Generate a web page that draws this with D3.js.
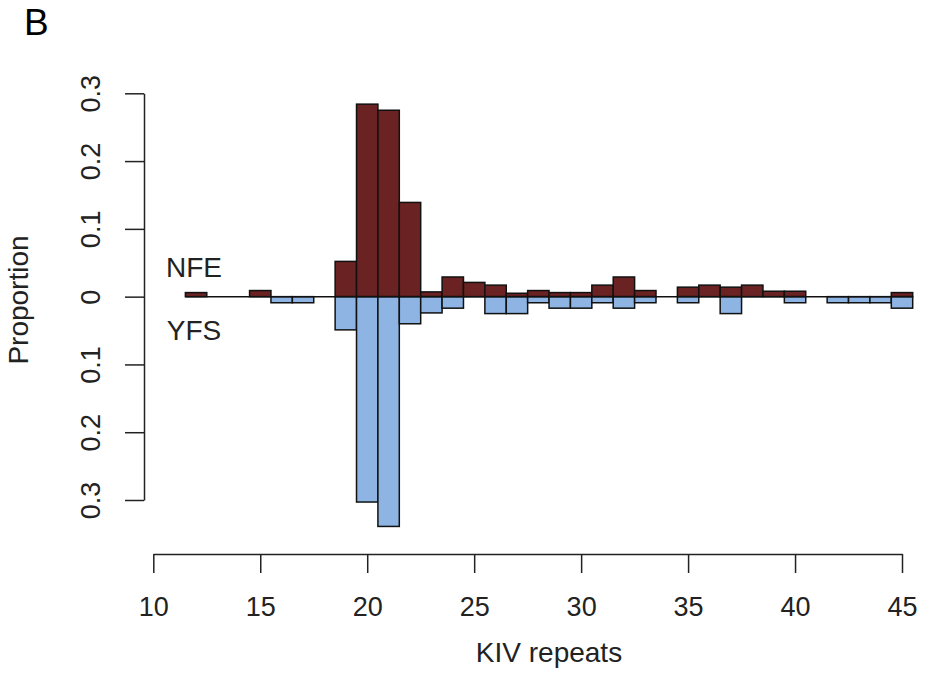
<!DOCTYPE html>
<html>
<head>
<meta charset="utf-8">
<script src="https://cdn.jsdelivr.net/npm/d3@7"></script>
<style>
  html, body { margin: 0; padding: 0; background: #fff; }
  svg { display: block; font-family: "Liberation Sans", Arial, sans-serif; }
</style>
</head>
<body>
<svg id="chart" width="928" height="698"></svg>
<script>
// KIV repeat counts (bar centres)
const repeats = [11,12,13,14,15,16,17,18,19,20,21,22,23,24,25,26,27,28,29,30,31,32,33,34,35,36,37,38,39,40,41,42,43,44,45];
// NFE proportions (drawn upwards)
const nfe = [0,0.006,0,0,0.009,0,0,0,0.052,0.284,0.275,0.139,0.007,0.029,0.021,0.017,0.005,0.009,0.006,0.006,0.017,0.029,0.009,0,0.014,0.017,0.014,0.017,0.008,0.008,0,0,0,0,0.006];
// YFS proportions (drawn downwards)
const yfs = [0,0,0,0,0,0.009,0.009,0,0.049,0.303,0.339,0.040,0.024,0.017,0,0.025,0.025,0.009,0.017,0.017,0.009,0.017,0.009,0,0.009,0,0.025,0,0,0.009,0,0.009,0.009,0.009,0.017];
const xTicks = [10,15,20,25,30,35,40,45];
const yTicks = [-0.3,-0.2,-0.1,0,0.1,0.2,0.3];
const groupLabels = [{name:"NFE", x:11.9, y:0.029}, {name:"YFS", x:11.9, y:-0.064}];

const svg = d3.select("#chart");
const x = d3.scaleLinear().domain([10,45]).range([153.3,902]);
const y = d3.scaleLinear().domain([-0.3,0.3]).range([500,93.3]);

const NFE_COL = "#6b2222";
const YFS_COL = "#8db4e3";
const TXT = "#222";

// bars
const data = repeats.map((r,i)=>({r, n:nfe[i], f:yfs[i]}));
svg.append("g").selectAll("rect.nfe").data(data.filter(d=>d.n>0)).join("rect")
  .attr("x", d=>x(d.r-0.5)).attr("width", d=>x(d.r+0.5)-x(d.r-0.5))
  .attr("y", d=>y(d.n)).attr("height", d=>y(0)-y(d.n))
  .attr("fill", NFE_COL).attr("stroke", "#111").attr("stroke-width", 1.5);
svg.append("g").selectAll("rect.yfs").data(data.filter(d=>d.f>0)).join("rect")
  .attr("x", d=>x(d.r-0.5)).attr("width", d=>x(d.r+0.5)-x(d.r-0.5))
  .attr("y", y(0)).attr("height", d=>y(-d.f)-y(0))
  .attr("fill", YFS_COL).attr("stroke", "#111").attr("stroke-width", 1.5);

// zero line
svg.append("line")
  .attr("x1", x(11.5)).attr("x2", x(45.5))
  .attr("y1", y(0)).attr("y2", y(0))
  .attr("stroke", "#111").attr("stroke-width", 1.5);

// y axis
const yAxis = svg.append("g").attr("transform", "translate(144,0)")
  .call(d3.axisLeft(y).tickValues(yTicks).tickSize(19).tickSizeOuter(0)
        .tickFormat(d=>{const a=Math.abs(d); return a===0?"0":d3.format(".1f")(a);}));
yAxis.select(".domain").attr("stroke", "#222").attr("stroke-width", 1.5);
yAxis.selectAll(".tick line").attr("stroke", "#222").attr("stroke-width", 1.5);
yAxis.selectAll(".tick text")
  .attr("transform", "rotate(-90)").attr("x", 0).attr("y", -44).attr("dy", 0)
  .attr("text-anchor", "middle").attr("fill", TXT)
  .style("font-size", "27px").style("font-family", "Liberation Sans, Arial, sans-serif");

// x axis
const xAxis = svg.append("g").attr("transform", "translate(0,554)")
  .call(d3.axisBottom(x).tickValues(xTicks).tickSize(19).tickSizeOuter(0));
xAxis.select(".domain").attr("stroke", "#222").attr("stroke-width", 1.5);
xAxis.selectAll(".tick line").attr("stroke", "#222").attr("stroke-width", 1.5);
xAxis.selectAll(".tick text")
  .attr("y", 62).attr("dy", 0).attr("fill", TXT)
  .style("font-size", "27px").style("font-family", "Liberation Sans, Arial, sans-serif");

// axis titles
svg.append("text").attr("x", 549).attr("y", 662).attr("text-anchor", "middle")
  .attr("fill", TXT).style("font-size", "28px").text("KIV repeats");
svg.append("text").attr("transform", "translate(28,300) rotate(-90)")
  .attr("text-anchor", "middle").attr("fill", TXT).style("font-size", "28px").text("Proportion");

// group labels
svg.append("g").selectAll("text").data(groupLabels).join("text")
  .attr("x", d=>x(d.x)).attr("y", d=>y(d.y)).attr("text-anchor", "middle")
  .attr("fill", TXT).style("font-size", "28px").text(d=>d.name);

// panel letter
svg.append("text").attr("x", 24).attr("y", 35).attr("fill", "#000")
  .style("font-size", "37px").text("B");
</script>
</body>
</html>
